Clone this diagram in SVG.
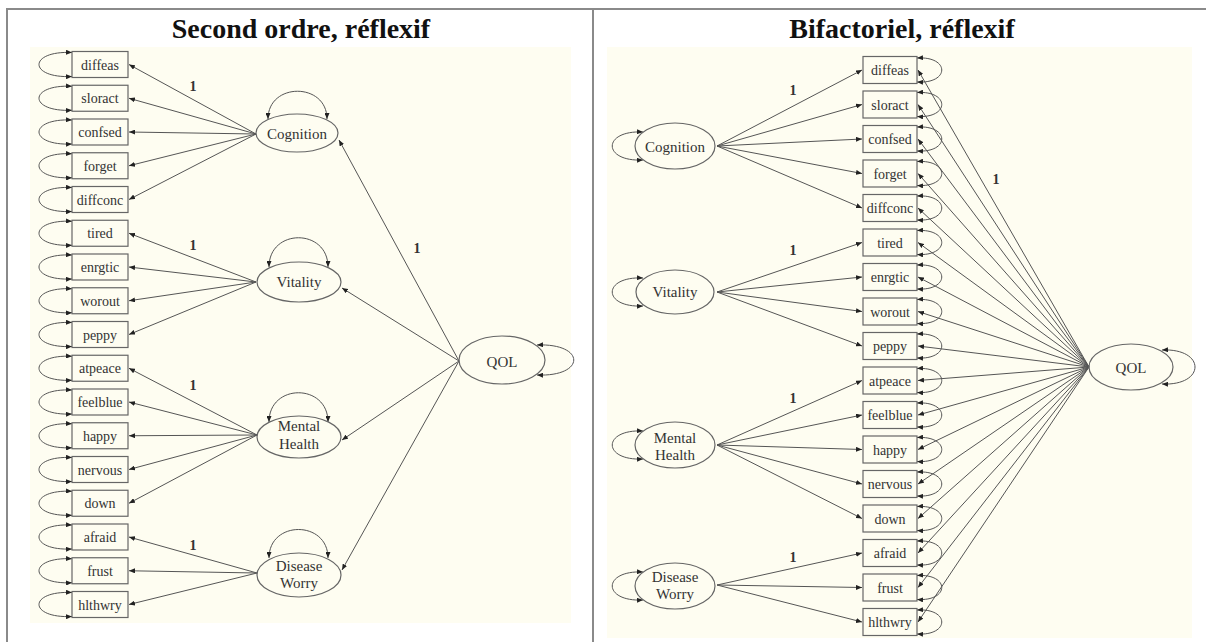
<svg xmlns="http://www.w3.org/2000/svg" width="1206" height="642" viewBox="0 0 1206 642">
<defs>
<marker id="ah" markerUnits="userSpaceOnUse" markerWidth="6" markerHeight="5" refX="6" refY="2.5" orient="auto-start-reverse">
<path d="M0,0 L6,2.5 L0,5 z" fill="#222"/>
</marker>
<style>
.bg{fill:#FEFDF1}
.frame{stroke:#8a8a8a;stroke-width:2;fill:none}
.box{fill:none;stroke:#666;stroke-width:1.2}
.ell{fill:none;stroke:#666;stroke-width:1.2}
.ln{fill:none;stroke:#555;stroke-width:1;marker-end:url(#ah)}
.lp{fill:none;stroke:#555;stroke-width:1;marker-start:url(#ah);marker-end:url(#ah)}
.t{font-family:"Liberation Serif",serif;font-size:14px;fill:#333;text-anchor:middle}
.tf{font-family:"Liberation Serif",serif;font-size:15px;fill:#333;text-anchor:middle}
.lab{font-family:"Liberation Serif",serif;font-size:14px;font-weight:bold;fill:#333;text-anchor:middle}
.hd{font-family:"Liberation Serif",serif;font-size:28px;font-weight:bold;fill:#111;text-anchor:middle}
</style>
</defs>
<rect x="0" y="0" width="1206" height="642" fill="#fff"/>
<rect class="bg" x="30" y="47" width="541" height="576"/>
<rect class="bg" x="607" y="47" width="585" height="591"/>
<g id="table">
<line class="frame" x1="7" y1="9" x2="1206" y2="9"/>
<line class="frame" x1="7" y1="8" x2="7" y2="642"/>
<line class="frame" x1="593" y1="9" x2="593" y2="642"/>
</g>
<text class="hd" x="301" y="38">Second ordre, réflexif</text>
<text class="hd" x="902" y="38">Bifactoriel, réflexif</text>

<!-- LEFT PANEL -->
<g id="left-connectors">
<path class="ln" d="M256,134 L129,64.5"/>
<path class="ln" d="M256,134 L129,98.25"/>
<path class="ln" d="M256,134 L129,132"/>
<path class="ln" d="M256,134 L129,165.75"/>
<path class="ln" d="M256,134 L129,199.5"/>
<path class="ln" d="M256,282 L129,233.25"/>
<path class="ln" d="M256,282 L129,267"/>
<path class="ln" d="M256,282 L129,300.75"/>
<path class="ln" d="M256,282 L129,334.5"/>
<path class="ln" d="M257,435 L129,368.25"/>
<path class="ln" d="M257,435 L129,402"/>
<path class="ln" d="M257,435 L129,435.75"/>
<path class="ln" d="M257,435 L129,469.5"/>
<path class="ln" d="M257,435 L129,503.25"/>
<path class="ln" d="M257,573 L129,537"/>
<path class="ln" d="M257,573 L129,570.75"/>
<path class="ln" d="M257,573 L129,604.5"/>
<path class="ln" d="M459,361 L339,140"/>
<path class="ln" d="M459,361 L342,288"/>
<path class="ln" d="M459,361 L342,440"/>
<path class="ln" d="M459,361 L342,570"/>
<path class="lp" d="M72,52.5 C28,50.5 28,78.5 72,76.5"/>
<path class="lp" d="M72,86.25 C28,84.25 28,112.25 72,110.25"/>
<path class="lp" d="M72,120 C28,118 28,146 72,144"/>
<path class="lp" d="M72,153.75 C28,151.75 28,179.75 72,177.75"/>
<path class="lp" d="M72,187.5 C28,185.5 28,213.5 72,211.5"/>
<path class="lp" d="M72,221.25 C28,219.25 28,247.25 72,245.25"/>
<path class="lp" d="M72,255 C28,253 28,281 72,279"/>
<path class="lp" d="M72,288.75 C28,286.75 28,314.75 72,312.75"/>
<path class="lp" d="M72,322.5 C28,320.5 28,348.5 72,346.5"/>
<path class="lp" d="M72,356.25 C28,354.25 28,382.25 72,380.25"/>
<path class="lp" d="M72,390 C28,388 28,416 72,414"/>
<path class="lp" d="M72,423.75 C28,421.75 28,449.75 72,447.75"/>
<path class="lp" d="M72,457.5 C28,455.5 28,483.5 72,481.5"/>
<path class="lp" d="M72,491.25 C28,489.25 28,517.25 72,515.25"/>
<path class="lp" d="M72,525 C28,523 28,551 72,549"/>
<path class="lp" d="M72,558.75 C28,556.75 28,584.75 72,582.75"/>
<path class="lp" d="M72,592.5 C28,590.5 28,618.5 72,616.5"/>
<path class="lp" d="M268,119 C268,82 327,82 327,119"/>
<path class="lp" d="M269,267 C269,228 328,228 328,267"/>
<path class="lp" d="M269,422 C269,383 328,383 328,422"/>
<path class="lp" d="M269,558 C269,520 328,520 328,558"/>
<path class="lp" d="M537,345 C586,343 586,377 537,375"/>
<text class="lab" x="193" y="91">1</text>
<text class="lab" x="193" y="250">1</text>
<text class="lab" x="193" y="390">1</text>
<text class="lab" x="193" y="550">1</text>
<text class="lab" x="417" y="253">1</text>
</g>

<g id="L-diffeas"><rect class="box" x="72" y="51.5" width="56" height="26"/><text class="t" x="100" y="69.5">diffeas</text></g>
<g id="L-sloract"><rect class="box" x="72" y="85.25" width="56" height="26"/><text class="t" x="100" y="103.25">sloract</text></g>
<g id="L-confsed"><rect class="box" x="72" y="119" width="56" height="26"/><text class="t" x="100" y="137">confsed</text></g>
<g id="L-forget"><rect class="box" x="72" y="152.75" width="56" height="26"/><text class="t" x="100" y="170.75">forget</text></g>
<g id="L-diffconc"><rect class="box" x="72" y="186.5" width="56" height="26"/><text class="t" x="100" y="204.5">diffconc</text></g>
<g id="L-tired"><rect class="box" x="72" y="220.25" width="56" height="26"/><text class="t" x="100" y="238.25">tired</text></g>
<g id="L-enrgtic"><rect class="box" x="72" y="254" width="56" height="26"/><text class="t" x="100" y="272">enrgtic</text></g>
<g id="L-worout"><rect class="box" x="72" y="287.75" width="56" height="26"/><text class="t" x="100" y="305.75">worout</text></g>
<g id="L-peppy"><rect class="box" x="72" y="321.5" width="56" height="26"/><text class="t" x="100" y="339.5">peppy</text></g>
<g id="L-atpeace"><rect class="box" x="72" y="355.25" width="56" height="26"/><text class="t" x="100" y="373.25">atpeace</text></g>
<g id="L-feelblue"><rect class="box" x="72" y="389" width="56" height="26"/><text class="t" x="100" y="407">feelblue</text></g>
<g id="L-happy"><rect class="box" x="72" y="422.75" width="56" height="26"/><text class="t" x="100" y="440.75">happy</text></g>
<g id="L-nervous"><rect class="box" x="72" y="456.5" width="56" height="26"/><text class="t" x="100" y="474.5">nervous</text></g>
<g id="L-down"><rect class="box" x="72" y="490.25" width="56" height="26"/><text class="t" x="100" y="508.25">down</text></g>
<g id="L-afraid"><rect class="box" x="72" y="524" width="56" height="26"/><text class="t" x="100" y="542">afraid</text></g>
<g id="L-frust"><rect class="box" x="72" y="557.75" width="56" height="26"/><text class="t" x="100" y="575.75">frust</text></g>
<g id="L-hlthwry"><rect class="box" x="72" y="591.5" width="56" height="26"/><text class="t" x="100" y="609.5">hlthwry</text></g>

<g id="L-cognition"><ellipse class="ell" cx="297" cy="133" rx="41" ry="19"/><text class="tf" x="297" y="139">Cognition</text></g>
<g id="L-vitality"><ellipse class="ell" cx="299" cy="282" rx="42" ry="20"/><text class="tf" x="299" y="287">Vitality</text></g>
<g id="L-mental"><ellipse class="ell" cx="299" cy="437" rx="42" ry="21"/><text class="tf" x="299" y="431">Mental</text><text class="tf" x="299" y="449">Health</text></g>
<g id="L-disease"><ellipse class="ell" cx="299" cy="575" rx="42" ry="22"/><text class="tf" x="299" y="571">Disease</text><text class="tf" x="299" y="588">Worry</text></g>
<g id="L-qol"><ellipse class="ell" cx="502" cy="360" rx="43" ry="24"/><text class="tf" x="502" y="367">QOL</text></g>

<!-- RIGHT PANEL -->
<g id="right-connectors">
<path class="ln" d="M717,146 L862,70"/>
<path class="ln" d="M717,146 L862,104.5"/>
<path class="ln" d="M717,146 L862,139"/>
<path class="ln" d="M717,146 L862,173.5"/>
<path class="ln" d="M717,146 L862,208"/>
<path class="ln" d="M717,292 L862,242.5"/>
<path class="ln" d="M717,292 L862,277"/>
<path class="ln" d="M717,292 L862,311.5"/>
<path class="ln" d="M717,292 L862,346"/>
<path class="ln" d="M717,445 L862,380.5"/>
<path class="ln" d="M717,445 L862,415"/>
<path class="ln" d="M717,445 L862,449.5"/>
<path class="ln" d="M717,445 L862,484"/>
<path class="ln" d="M717,445 L862,518.5"/>
<path class="ln" d="M717,585 L862,553"/>
<path class="ln" d="M717,585 L862,587.5"/>
<path class="ln" d="M717,585 L862,622"/>
<path class="ln" d="M1089,367 L918,70"/>
<path class="ln" d="M1089,367 L918,104.5"/>
<path class="ln" d="M1089,367 L918,139"/>
<path class="ln" d="M1089,367 L918,173.5"/>
<path class="ln" d="M1089,367 L918,208"/>
<path class="ln" d="M1089,367 L918,242.5"/>
<path class="ln" d="M1089,367 L918,277"/>
<path class="ln" d="M1089,367 L918,311.5"/>
<path class="ln" d="M1089,367 L918,346"/>
<path class="ln" d="M1089,367 L918,380.5"/>
<path class="ln" d="M1089,367 L918,415"/>
<path class="ln" d="M1089,367 L918,449.5"/>
<path class="ln" d="M1089,367 L918,484"/>
<path class="ln" d="M1089,367 L918,518.5"/>
<path class="ln" d="M1089,367 L918,553"/>
<path class="ln" d="M1089,367 L918,587.5"/>
<path class="ln" d="M1089,367 L918,622"/>
<path class="lp" d="M917,58 C950,56 950,84 917,82"/>
<path class="lp" d="M917,92.5 C950,90.5 950,118.5 917,116.5"/>
<path class="lp" d="M917,127 C950,125 950,153 917,151"/>
<path class="lp" d="M917,161.5 C950,159.5 950,187.5 917,185.5"/>
<path class="lp" d="M917,196 C950,194 950,222 917,220"/>
<path class="lp" d="M917,230.5 C950,228.5 950,256.5 917,254.5"/>
<path class="lp" d="M917,265 C950,263 950,291 917,289"/>
<path class="lp" d="M917,299.5 C950,297.5 950,325.5 917,323.5"/>
<path class="lp" d="M917,334 C950,332 950,360 917,358"/>
<path class="lp" d="M917,368.5 C950,366.5 950,394.5 917,392.5"/>
<path class="lp" d="M917,403 C950,401 950,429 917,427"/>
<path class="lp" d="M917,437.5 C950,435.5 950,463.5 917,461.5"/>
<path class="lp" d="M917,472 C950,470 950,498 917,496"/>
<path class="lp" d="M917,506.5 C950,504.5 950,532.5 917,530.5"/>
<path class="lp" d="M917,541 C950,539 950,567 917,565"/>
<path class="lp" d="M917,575.5 C950,573.5 950,601.5 917,599.5"/>
<path class="lp" d="M917,610 C950,608 950,636 917,634"/>
<path class="lp" d="M643,132 C602,130 602,162 643,160"/>
<path class="lp" d="M643,278 C602,276 602,308 643,306"/>
<path class="lp" d="M643,431 C602,429 602,461 643,459"/>
<path class="lp" d="M643,572 C602,570 602,602 643,600"/>
<path class="lp" d="M1162,350 C1206,348 1206,386 1162,384"/>
<text class="lab" x="793" y="95">1</text>
<text class="lab" x="793" y="255">1</text>
<text class="lab" x="793" y="403">1</text>
<text class="lab" x="793" y="562">1</text>
<text class="lab" x="996" y="184">1</text>
</g>

<g id="R-diffeas"><rect class="box" x="863" y="56.5" width="54" height="27"/><text class="t" x="890" y="75">diffeas</text></g>
<g id="R-sloract"><rect class="box" x="863" y="91" width="54" height="27"/><text class="t" x="890" y="109.5">sloract</text></g>
<g id="R-confsed"><rect class="box" x="863" y="125.5" width="54" height="27"/><text class="t" x="890" y="144">confsed</text></g>
<g id="R-forget"><rect class="box" x="863" y="160" width="54" height="27"/><text class="t" x="890" y="178.5">forget</text></g>
<g id="R-diffconc"><rect class="box" x="863" y="194.5" width="54" height="27"/><text class="t" x="890" y="213">diffconc</text></g>
<g id="R-tired"><rect class="box" x="863" y="229" width="54" height="27"/><text class="t" x="890" y="247.5">tired</text></g>
<g id="R-enrgtic"><rect class="box" x="863" y="263.5" width="54" height="27"/><text class="t" x="890" y="282">enrgtic</text></g>
<g id="R-worout"><rect class="box" x="863" y="298" width="54" height="27"/><text class="t" x="890" y="316.5">worout</text></g>
<g id="R-peppy"><rect class="box" x="863" y="332.5" width="54" height="27"/><text class="t" x="890" y="351">peppy</text></g>
<g id="R-atpeace"><rect class="box" x="863" y="367" width="54" height="27"/><text class="t" x="890" y="385.5">atpeace</text></g>
<g id="R-feelblue"><rect class="box" x="863" y="401.5" width="54" height="27"/><text class="t" x="890" y="420">feelblue</text></g>
<g id="R-happy"><rect class="box" x="863" y="436" width="54" height="27"/><text class="t" x="890" y="454.5">happy</text></g>
<g id="R-nervous"><rect class="box" x="863" y="470.5" width="54" height="27"/><text class="t" x="890" y="489">nervous</text></g>
<g id="R-down"><rect class="box" x="863" y="505" width="54" height="27"/><text class="t" x="890" y="523.5">down</text></g>
<g id="R-afraid"><rect class="box" x="863" y="539.5" width="54" height="27"/><text class="t" x="890" y="558">afraid</text></g>
<g id="R-frust"><rect class="box" x="863" y="574" width="54" height="27"/><text class="t" x="890" y="592.5">frust</text></g>
<g id="R-hlthwry"><rect class="box" x="863" y="608.5" width="54" height="27"/><text class="t" x="890" y="627">hlthwry</text></g>

<g id="R-cognition"><ellipse class="ell" cx="675" cy="146" rx="40" ry="23"/><text class="tf" x="675" y="152">Cognition</text></g>
<g id="R-vitality"><ellipse class="ell" cx="675" cy="292" rx="39" ry="22"/><text class="tf" x="675" y="297">Vitality</text></g>
<g id="R-mental"><ellipse class="ell" cx="675" cy="445" rx="40" ry="23"/><text class="tf" x="675" y="443">Mental</text><text class="tf" x="675" y="460">Health</text></g>
<g id="R-disease"><ellipse class="ell" cx="675" cy="586" rx="40" ry="23"/><text class="tf" x="675" y="582">Disease</text><text class="tf" x="675" y="599">Worry</text></g>
<g id="R-qol"><ellipse class="ell" cx="1131" cy="367" rx="42" ry="23"/><text class="tf" x="1131" y="373">QOL</text></g>
</svg>
